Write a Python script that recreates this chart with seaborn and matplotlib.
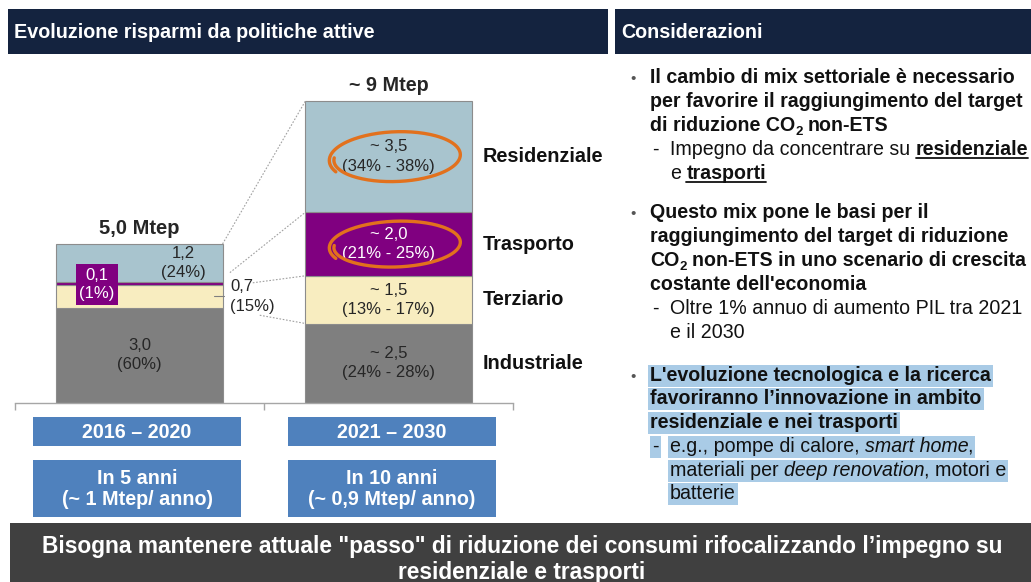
import numpy as np
import pandas as pd
import seaborn as sns
import matplotlib.pyplot as plt
from matplotlib.patches import Rectangle
from matplotlib.lines import Line2D
from matplotlib.transforms import IdentityTransform

W, H = 1031, 582

# data
periods = ["2016 – 2020", "2021 – 2030"]
sectors = ["Industriale", "Terziario", "Trasporto", "Residenziale"]
savings_2016 = [3.0, 0.7, 0.1, 1.2]
savings_2021 = [2.5, 1.5, 2.0, 3.5]
labels_2016 = ["3,0\n(60%)", "0,7\n(15%)", "0,1\n(1%)", "1,2\n(24%)"]
labels_2021 = ["~ 2,5\n(24% - 28%)", "~ 1,5\n(13% - 17%)", "~ 2,0\n(21% - 25%)", "~ 3,5\n(34% - 38%)"]
totals = ["5,0 Mtep", "~ 9 Mtep"]
pace = ["In 5 anni\n(~ 1 Mtep/ anno)", "In 10 anni\n(~ 0,9 Mtep/ anno)"]
sector_colors = ["#7F7F7F", "#F8EDC0", "#800080", "#A8C4CE"]

NAVY = "#14233F"
BLUE = "#4F81BD"
ORANGE = "#E2711D"
HL = "#A9CBE6"

sns.set_theme(style="white")
plt.rcParams['font.family'] = ['Liberation Sans', 'DejaVu Sans']

fig = plt.figure(figsize=(W / 100, H / 100), dpi=100)
fig.patch.set_facecolor("white")


def fx(x):
    return x / W


def fy(y):
    return 1 - y / H


def box(x0, y0, x1, y1, color, z=0):
    fig.add_artist(Rectangle((fx(x0), fy(y1)), (x1 - x0) / W, (y1 - y0) / H,
                             transform=fig.transFigure, facecolor=color,
                             edgecolor="none", zorder=z))


# headers
box(8, 9, 608, 54, NAVY)
box(615, 9, 1031, 54, NAVY)
fig.text(fx(14), fy(32), "Evoluzione risparmi da politiche attive", color="white",
         fontsize=14.2, fontweight="bold", va="center")
fig.text(fx(621), fy(32), "Considerazioni", color="white",
         fontsize=14.2, fontweight="bold", va="center")

# ---- stacked bars ----
rows = []
for period, vals in zip(periods, [savings_2016, savings_2021]):
    bottom = 0
    for s, v in zip(sectors, vals):
        rows.append({"period": period, "sector": s, "value": v, "bottom": bottom})
        bottom += v
df = pd.DataFrame(rows)

px_per_unit = 31.8
ax = fig.add_axes([fx(15), fy(403), 498 / W, 333 / H])
for s, c in zip(sectors, sector_colors):
    sub = df[df["sector"] == s].set_index("period").loc[periods].reset_index()
    sns.barplot(data=sub, x="period", y="value", order=periods, bottom=sub["bottom"].values,
                color=c, saturation=1, width=0.667, errorbar=None, ax=ax,
                edgecolor="#8C8C8C", linewidth=0.8)

ax.set_xlim(-0.5, 1.5)
ax.set_ylim(0, 333 / px_per_unit)
ax.set_xticks([-0.5, 0.5, 1.5])
ax.set_xticklabels([])
ax.set_yticks([])
ax.set_xlabel("")
ax.set_ylabel("")
ax.patch.set_alpha(0)
for sp in ["top", "left", "right"]:
    ax.spines[sp].set_visible(False)
ax.spines["bottom"].set_color("#A6A6A6")
ax.spines["bottom"].set_linewidth(1)
ax.tick_params(axis="x", direction="out", length=5, color="#A6A6A6", width=1, bottom=True)

# segment labels, 2016-2020
cum16 = np.cumsum([0] + savings_2016)
mid16 = [(cum16[i] + cum16[i + 1]) / 2 for i in range(4)]
fs = 12
ls = 1.35
ax.text(0, mid16[0], labels_2016[0], ha="center", va="center", fontsize=fs, color="#262626",
        linespacing=ls)
ax.text(0.175, mid16[3], labels_2016[3], ha="center", va="center", fontsize=fs, color="#262626",
        linespacing=ls)
ax.text(-0.17, cum16[2] + 0.03, labels_2016[2], ha="center", va="center", fontsize=fs,
        color="white", linespacing=1.3,
        bbox=dict(facecolor=sector_colors[2], edgecolor="none", boxstyle="square,pad=0.2"))
ax.text(0.365, mid16[1], labels_2016[1], ha="left", va="center", fontsize=fs, color="#262626",
        linespacing=ls)
ax.plot([0.30, 0.34], [mid16[1], mid16[1]], color="#7F7F7F", lw=0.8)

# segment labels, 2021-2030
cum21 = np.cumsum([0] + savings_2021)
mid21 = [(cum21[i] + cum21[i + 1]) / 2 for i in range(4)]
for i, lab in enumerate(labels_2021):
    ax.text(1, mid21[i], lab, ha="center", va="center", fontsize=fs,
            color="white" if i == 2 else "#262626", linespacing=ls)
    ax.text(1.38, mid21[i], sectors[i], ha="left", va="center", fontsize=14.3,
            fontweight="bold", color="#111111")

ax.text(0, cum16[-1] + 0.2, totals[0], ha="center", va="bottom", fontsize=14.5, fontweight="bold")
ax.text(1, cum21[-1] + 0.2, totals[1], ha="center", va="bottom", fontsize=14.2, fontweight="bold")

# dotted connectors between the two bars
dot = dict(color="#A0A0A0", lw=0.8, ls=(0, (1.5, 1.5)), clip_on=False)
ax.plot([0.3335, 0.6665], [cum16[-1], cum21[-1]], **dot)
ax.plot([0.363, 0.6665], [4.1, cum21[3]], **dot)
ax.plot([0.455, 0.6665], [3.78, cum21[2]], **dot)
ax.plot([0.483, 0.6665], [2.76, cum21[1]], **dot)

# hand-drawn orange loops around the two key sectors
fig.canvas.draw()
for i, ry in [(3, 23), (2, 21)]:
    cx, cy = ax.transData.transform((1.03, mid21[i]))
    t = np.linspace(np.pi * 0.97, np.pi * 0.97 + 2 * np.pi + 0.55, 200)
    rx = 62 + 5 * (t - t[0]) / (t[-1] - t[0])
    rr = ry + 4 * (t - t[0]) / (t[-1] - t[0])
    xs = cx + rx * np.cos(t)
    ys = cy - 1 + rr * np.sin(t) + 0.04 * rx * np.cos(t)
    fig.add_artist(Line2D(xs, ys, transform=IdentityTransform(), color=ORANGE, lw=2.4,
                          solid_capstyle="round"))

# period boxes
for (x0, x1), per, pc in zip([(33, 241), (288, 496)], periods, pace):
    box(x0, 417, x1, 446, BLUE)
    box(x0, 460, x1, 517, BLUE)
    fig.text(fx((x0 + x1) / 2), fy(432), per, color="white", fontsize=14.2,
             fontweight="bold", ha="center", va="center")
    fig.text(fx((x0 + x1) / 2), fy(489), pc, color="white", fontsize=14.2,
             fontweight="bold", ha="center", va="center", linespacing=1.15)

# bottom banner
box(10, 523, 1031, 582, "#404040")
banner = ["Bisogna mantenere attuale \"passo\" di riduzione dei consumi rifocalizzando "
          "l\u2019impegno su", "residenziale e trasporti"]
for y, line in zip([547, 572], banner):
    fig.text(fx(522), fy(y), line, color="white", fontsize=16.4, fontweight="bold",
             ha="center", va="center")

# ---- right-hand text ----
rend = fig.canvas.get_renderer()
SZ = 14.1


def rich(x, y, pieces, hl=None):
    x_start = x
    for txt, style in pieces:
        if txt.startswith(" "):
            x += 0.278 * SZ * 100 / 72
            txt = txt.lstrip()
        kw = dict(fontsize=SZ, va="baseline", ha="left", color="#111111")
        kw.update(style)
        ul = kw.pop("ul", False)
        dy = kw.pop("dy", 0)
        x += kw.pop("dx", 0)
        t = fig.text(fx(x), fy(y + dy), txt, zorder=3, **kw)
        bb = t.get_window_extent(rend)
        if ul:
            fig.add_artist(Line2D([fx(bb.x0), fx(bb.x1)], [fy(y + 3)] * 2,
                                  transform=fig.transFigure, color="#111111", lw=1.3))
        x = bb.x1
    if hl:
        # one highlight band per line of text
        fig.add_artist(Rectangle((fx(x_start - 2.5), fy(y + 6)), (x - x_start + 5) / W,
                                 22 / H, transform=fig.transFigure, facecolor=hl,
                                 edgecolor="none", zorder=1))
    return x


B = {"fontweight": "bold"}
R = {}
I = {"fontstyle": "italic"}
SUB = {"fontweight": "bold", "fontsize": 9.5, "dy": 4}


def bullet(y):
    fig.text(fx(630), fy(y), "\u2022", fontsize=11, color="#555555", va="baseline")


def dash(y, hl=None):
    rich(652, y, [("-", R)], hl=hl)


bullet(83)
rich(650, 83, [("Il cambio di mix settoriale è necessario", B)])
rich(650, 107, [("per favorire il raggiungimento del target", B)])
rich(650, 131, [("di riduzione CO", B), ("2", SUB), (" non-ETS", B)])
dash(155)
rich(670, 155, [("Impegno da concentrare su", R), (" residenziale", dict(B, ul=True))])
rich(670, 179, [("e", R), (" trasporti", dict(B, ul=True))])

bullet(218)
rich(650, 218, [("Questo mix pone le basi per il", B)])
rich(650, 242, [("raggiungimento del target di riduzione", B)])
rich(650, 266, [("CO", B), ("2", SUB), (" non-ETS in uno scenario di crescita", B)])
rich(650, 290, [("costante dell'economia", B)])
dash(314)
rich(670, 314, [("Oltre 1% annuo di aumento PIL tra 2021", R)])
rich(670, 338, [("e il 2030", R)])

bullet(381)
rich(650, 381, [("L'evoluzione tecnologica e la ricerca", B)], hl=HL)
rich(650, 404, [("favoriranno l\u2019innovazione in ambito", B)], hl=HL)
rich(650, 428, [("residenziale e nei trasporti", B)], hl=HL)
dash(452, hl=HL)
rich(670, 452, [("e.g., pompe di calore,", R), (" smart home", I), (",", dict(R, dx=-2))], hl=HL)
rich(670, 476, [("materiali per", R), (" deep renovation", I), (", motori e", dict(R, dx=-1))],
     hl=HL)
rich(670, 499, [("batterie", R)], hl=HL)

fig.savefig("out.png", dpi=100)
